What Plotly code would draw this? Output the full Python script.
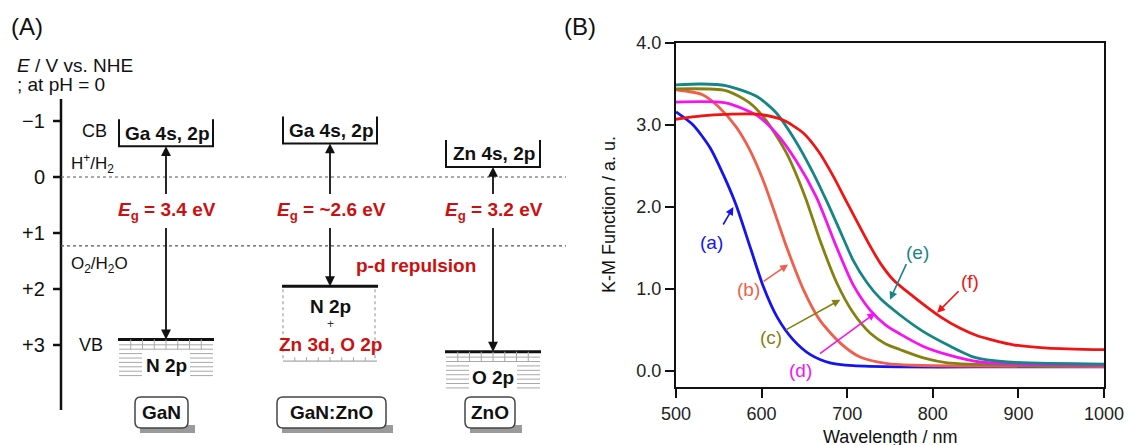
import plotly.graph_objects as go

FONT = "Liberation Sans, Arial, Helvetica, sans-serif"
W, H = 1129, 445

# ---------------- Panel B data (K-M function vs wavelength) ----------------
wl_a = [500, 520, 540, 555, 570, 587, 602, 618, 637, 657, 680, 707, 760, 850, 1000]
km_a = [3.16, 3.00, 2.72, 2.40, 2.03, 1.50, 1.03, 0.66, 0.38, 0.20, 0.10, 0.065, 0.05, 0.05, 0.05]

wl_b = [500, 531, 550, 570, 585, 602, 617, 630, 649, 668, 692, 715, 747, 777, 850, 1000]
km_b = [3.43, 3.37, 3.22, 2.98, 2.72, 2.32, 1.88, 1.49, 0.99, 0.62, 0.34, 0.17, 0.09, 0.07, 0.06, 0.055]

wl_c = [500, 558, 586, 605, 629, 651, 668, 688, 707, 727, 745, 762, 789, 817, 900, 1000]
km_c = [3.44, 3.42, 3.27, 3.06, 2.66, 2.12, 1.60, 1.07, 0.71, 0.46, 0.33, 0.26, 0.16, 0.10, 0.07, 0.06]

wl_d = [500, 558, 594, 617, 640, 664, 688, 707, 727, 745, 762, 789, 817, 855, 900, 1000]
km_d = [3.28, 3.27, 3.12, 2.90, 2.57, 2.12, 1.50, 1.05, 0.74, 0.56, 0.45, 0.30, 0.20, 0.11, 0.085, 0.07]

wl_e = [500, 530, 558, 594, 617, 640, 660, 677, 692, 707, 723, 739, 762, 789, 817, 848, 887, 1000]
km_e = [3.49, 3.50, 3.48, 3.35, 3.15, 2.80, 2.42, 2.05, 1.70, 1.35, 1.08, 0.88, 0.68, 0.48, 0.32, 0.17, 0.11, 0.085]

wl_f = [500, 530, 558, 597, 625, 649, 667, 684, 698, 727, 739, 754, 777, 809, 832, 852, 894, 934, 1000]
km_f = [3.07, 3.11, 3.13, 3.13, 3.06, 2.90, 2.67, 2.37, 2.09, 1.52, 1.31, 1.11, 0.91, 0.66, 0.52, 0.43, 0.32, 0.28, 0.26]

curve_labels = ["(a)", "(b)", "(c)", "(d)", "(e)", "(f)"]
curve_colors = ["#1414f0", "#ef5f4a", "#85800f", "#f514f0", "#158585", "#f01414"]
curve_x = [wl_a, wl_b, wl_c, wl_d, wl_e, wl_f]
curve_y = [km_a, km_b, km_c, km_d, km_e, km_f]

# label positions and arrow tips (data units) for each curve callout
label_wl = [542, 585, 611, 646, 782, 844]
label_km = [1.57, 0.99, 0.41, 0.01, 1.45, 1.09]
tip_wl = [567, 631, 692, 733, 750, 805]
tip_km = [2.00, 1.30, 0.87, 0.71, 0.87, 0.71]
tail_dx = [-11, -26, -56, -57, 17, 23]
tail_dy = [19, 18, 31, 42, -37, -23]

x_ticks = [500, 600, 700, 800, 900, 1000]
y_ticks = [0, 1, 2, 3, 4]
y_tick_text = ["0.0", "1.0", "2.0", "3.0", "4.0"]

# ---------------- Panel A data (band diagram) ----------------
materials = ["GaN", "GaN:ZnO", "ZnO"]
cb_levels = [-0.55, -0.60, -0.18]
vb_levels = [2.90, 1.95, 3.12]
cb_labels = ["Ga 4s, 2p", "Ga 4s, 2p", "Zn 4s, 2p"]
gap_labels = ["3.4 eV", "~2.6 eV", "3.2 eV"]
redox_levels = [0.0, 1.23]
redox_labels = ["H<sup>+</sup>/H<sub>2</sub>", "O<sub>2</sub>/H<sub>2</sub>O"]
energy_ticks = [-1, 0, 1, 2, 3]
energy_tick_text = ["\u22121", "0", "+1", "+2", "+3"]

RED = "#cc1010"
GRAY = "#a8a8a8"

# layout helpers for the schematic panel (pixel -> potential)
PX0, PXV = 177.0, 56.0
def v(py):
    return (py - PX0) / PXV
def dv(dpx):
    return dpx / PXV

fig = go.Figure()

# ---------- Panel B traces ----------
for lab, xs, ys, col in zip(curve_labels, curve_x, curve_y, curve_colors):
    fig.add_trace(go.Scatter(x=xs, y=ys, mode="lines", name=lab,
                             line=dict(color=col, width=2.8, shape="spline", smoothing=0.7),
                             xaxis="x", yaxis="y", showlegend=False, hoverinfo="skip"))

annotations = []
for lab, col, lx, ly, tx, ty, ax, ay in zip(curve_labels, curve_colors, label_wl, label_km,
                                             tip_wl, tip_km, tail_dx, tail_dy):
    annotations.append(dict(x=lx, y=ly, xref="x", yref="y", text=lab, showarrow=False,
                            xanchor="center", yanchor="middle",
                            font=dict(family=FONT, size=19, color=col)))
    annotations.append(dict(x=tx, y=ty, xref="x", yref="y", text="", showarrow=True,
                            ax=ax, ay=ay, arrowhead=2, arrowsize=1, arrowwidth=1.6,
                            arrowcolor=col, standoff=0))

def paper_text(px, py, text, size, xanchor="center", angle=0, color="#111"):
    annotations.append(dict(x=px / W, y=1 - py / H, xref="paper", yref="paper", text=text,
                            showarrow=False, xanchor=xanchor, yanchor="middle",
                            textangle=angle, font=dict(family=FONT, size=size, color=color)))

# axis titles for panel B
paper_text(890, 437, "Wavelength / nm", 18)
paper_text(609, 215, "K-M Function / a. u.", 18, angle=-90)
# panel letters
paper_text(27, 27, "(A)", 24)
paper_text(580, 27, "(B)", 24)
paper_text(15, 65, "<i>E</i> / V vs. NHE", 19, xanchor="left")
paper_text(15, 84, "; at pH = 0", 19, xanchor="left")

# ---------- Panel A ----------
AXX = 61
ax_x, ax_y = [AXX, AXX, None], [v(99), v(410), None]
for t in energy_ticks:
    ax_x += [AXX - 8, AXX, None]
    ax_y += [t, t, None]
fig.add_trace(go.Scatter(x=ax_x, y=ax_y, mode="lines", line=dict(color="#111", width=2.5),
                         xaxis="x2", yaxis="y2", showlegend=False, hoverinfo="skip"))

def a_text(x, y, text, size, color="#111", xanchor="center"):
    annotations.append(dict(x=x, y=y, xref="x2", yref="y2", text=text, showarrow=False,
                            xanchor=xanchor, yanchor="middle",
                            font=dict(family=FONT, size=size, color=color)))

for t, txt in zip(energy_ticks, energy_tick_text):
    a_text(47, t, txt, 20, xanchor="right")

shapes = []
redox_offsets = [dv(-14), dv(19)]
for lvl, lab, off in zip(redox_levels, redox_labels, redox_offsets):
    shapes.append(dict(type="line", xref="x2", yref="y2", x0=AXX, x1=566, y0=lvl, y1=lvl,
                       line=dict(color="#555", width=1.2, dash="dot")))
    a_text(69, lvl + off, lab, 17, xanchor="left")

a_text(94, cb_levels[0] - dv(15), "CB", 18)
a_text(91, vb_levels[0] + dv(6), "VB", 18)

col_centers = [166, 330, 493]
HALF = 47
box_centers = [161.5, 331.5, 490]
box_half = [26.5, 54.5, 25]
EG_Y = 0.6

def rounded(x0, x1, y0, y1, r):
    ry = dv(r)
    return (f"M {x0 + r},{y0} L {x1 - r},{y0} Q {x1},{y0} {x1},{y0 + ry} "
            f"L {x1},{y1 - ry} Q {x1},{y1} {x1 - r},{y1} L {x0 + r},{y1} "
            f"Q {x0},{y1} {x0},{y1 - ry} L {x0},{y0 + ry} Q {x0},{y0} {x0 + r},{y0} Z")

for i, mat in enumerate(materials):
    c = col_centers[i]
    cb, vb = cb_levels[i], vb_levels[i]
    x0, x1 = c - HALF, c + HALF
    # CB bracket
    top = cb - dv(27)
    shapes.append(dict(type="path", xref="x2", yref="y2",
                       path=f"M {x0},{top} L {x0},{cb} L {x1},{cb} L {x1},{top}",
                       line=dict(color="#111", width=2)))
    a_text(c + 1, cb - dv(13), f"<b>{cb_labels[i]}</b>", 19)
    # band gap arrows
    annotations.append(dict(x=c, y=cb, xref="x2", yref="y2", axref="x2", ayref="y2",
                            ax=c, ay=EG_Y - dv(15), text="", showarrow=True, arrowhead=2,
                            arrowsize=1.1, arrowwidth=1.8, arrowcolor="#111", standoff=0))
    annotations.append(dict(x=c, y=vb, xref="x2", yref="y2", axref="x2", ayref="y2",
                            ax=c, ay=EG_Y + dv(16), text="", showarrow=True, arrowhead=2,
                            arrowsize=1.1, arrowwidth=1.8, arrowcolor="#111", standoff=0))
    a_text(c + 1, EG_Y, f"<b><i>E</i><sub>g</sub> = {gap_labels[i]}</b>", 19, color=RED)
    # VB top line
    shapes.append(dict(type="line", xref="x2", yref="y2", x0=x0 - 1, x1=x1 + 1, y0=vb, y1=vb,
                       line=dict(color="#111", width=3)))
    if mat != "GaN:ZnO":
        vb_txt = "N 2p" if mat == "GaN" else "O 2p"
        for k in range(1, 9):
            yy = vb + dv(1 + 4.4 * k)
            if k <= 2:
                shapes.append(dict(type="line", xref="x2", yref="y2", x0=x0, x1=x1,
                                   y0=yy, y1=yy, line=dict(color=GRAY, width=1)))
            else:
                for a, b in ((x0, c - 24), (c + 24, x1)):
                    shapes.append(dict(type="line", xref="x2", yref="y2", x0=a, x1=b,
                                       y0=yy, y1=yy, line=dict(color=GRAY, width=1)))
        for k in range(1, 8):
            xx = x0 + k * (2 * HALF) / 8
            shapes.append(dict(type="line", xref="x2", yref="y2", x0=xx, x1=xx,
                               y0=vb, y1=vb + dv(10), line=dict(color=GRAY, width=1)))
        a_text(c, vb + dv(26), f"<b>{vb_txt}</b>", 19)
    else:
        bot = vb + dv(75)
        for xx in (x0, x1 - 2):
            shapes.append(dict(type="line", xref="x2", yref="y2", x0=xx, x1=xx,
                               y0=vb + dv(3), y1=bot, line=dict(color=GRAY, width=1.3, dash="dot")))
        shapes.append(dict(type="line", xref="x2", yref="y2", x0=x0, x1=x1, y0=bot, y1=bot,
                           line=dict(color=GRAY, width=1.2)))
        for k in range(1, 8):
            xx = x0 + k * (2 * HALF) / 8
            shapes.append(dict(type="line", xref="x2", yref="y2", x0=xx, x1=xx,
                               y0=bot - dv(4), y1=bot, line=dict(color=GRAY, width=1)))
        a_text(c, vb + dv(20), "<b>N 2p</b>", 19)
        a_text(c, vb + dv(38), "+", 12, color="#333")
        a_text(c, vb + dv(58), "<b>Zn 3d, O 2p</b>", 19, color=RED)
    # material label box with shadow
    bc, bh = box_centers[i], box_half[i]
    by0, by1 = v(397), v(428)
    shapes.append(dict(type="rect", xref="x2", yref="y2", x0=bc - bh + 5, x1=bc + bh + 7,
                       y0=by1 - dv(3), y1=by1 + dv(5), fillcolor="#9a9a9a", line=dict(width=0)))
    shapes.append(dict(type="path", xref="x2", yref="y2",
                       path=rounded(bc - bh, bc + bh, by0, by1, 6),
                       fillcolor="white", line=dict(color="#444", width=1.5)))
    a_text(bc, (by0 + by1) / 2, f"<b>{mat}</b>", 19)

a_text(416, v(265), "<b>p-d repulsion</b>", 19, color=RED)

axis_common = dict(showgrid=False, zeroline=False, showline=True, linecolor="#111",
                   linewidth=2, mirror=True, ticks="outside", ticklen=9, tickwidth=2,
                   tickcolor="#111", tickfont=dict(family=FONT, size=18, color="#222"),
                   automargin=False)

fig.update_layout(
    width=W, height=H, autosize=False,
    margin=dict(l=0, r=0, t=0, b=0, pad=0, autoexpand=False),
    paper_bgcolor="white", plot_bgcolor="white",
    font=dict(family=FONT),
    xaxis=dict(domain=[676 / W, 1104 / W], range=[500, 1000], tickvals=x_ticks,
               anchor="y", **axis_common),
    yaxis=dict(domain=[1 - 387 / H, 1 - 43 / H], range=[-0.195, 4.0], tickvals=y_ticks,
               ticktext=y_tick_text, anchor="x", **axis_common),
    xaxis2=dict(domain=[0, 0.505], range=[0, 0.505 * W], visible=False, anchor="y2",
                fixedrange=True),
    yaxis2=dict(domain=[0, 1], range=[v(H), v(0)], visible=False, anchor="x2",
                fixedrange=True),
    shapes=shapes,
    annotations=annotations,
)

fig.write_html("out.html", config={"displayModeBar": False},
               post_script="document.body.style.margin='0';document.body.style.overflow='hidden';")
